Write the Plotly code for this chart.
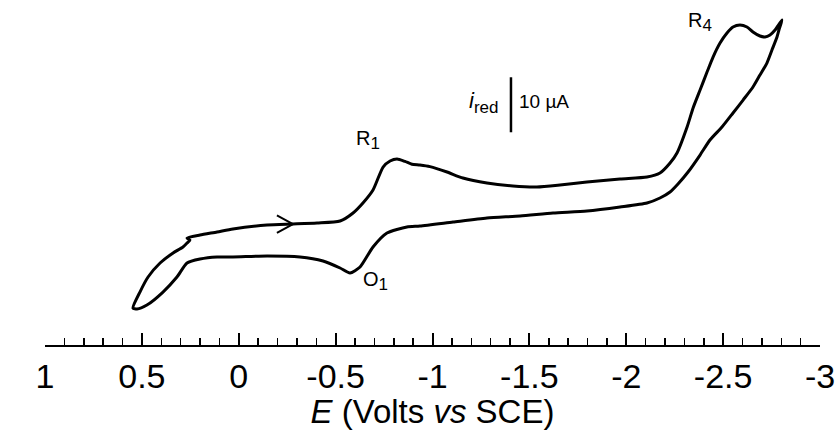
import plotly.graph_objects as go

# Cyclic voltammogram: potential E (V vs SCE) and current i (uA, reduction positive)
E_forward = [0.546, 0.510, 0.468, 0.406, 0.339, 0.288, 0.267, 0.252, 0.267, 0.200, 0.112, 0.030,
             -0.146, -0.280, -0.404, -0.523, -0.590, -0.641, -0.693, -0.745, -0.781, -0.817, -0.858,
             -0.894, -0.935, -0.987, -1.075, -1.157, -1.281, -1.415, -1.539, -1.658, -1.797, -1.968,
             -2.107, -2.174, -2.226, -2.262, -2.314, -2.345, -2.381, -2.417, -2.448, -2.484, -2.520,
             -2.551, -2.587, -2.623, -2.654, -2.690, -2.716, -2.742, -2.768, -2.804]
i_forward = [-1.45, 1.45, 4.18, 6.73, 8.55, 9.64, 10.36, 10.91, 11.27, 11.82, 12.36, 12.91,
             13.64, 13.82, 14.00, 14.36, 15.82, 17.64, 20.00, 24.18, 25.27, 25.64, 25.20,
             24.70, 24.55, 24.25, 23.27, 22.18, 21.27, 20.73, 20.55, 20.91, 21.45, 22.00,
             22.36, 23.09, 24.91, 26.73, 31.45, 34.91, 38.18, 41.45, 44.18, 46.73, 48.55,
             49.64, 50.00, 49.64, 48.73, 48.00, 47.82, 48.18, 49.09, 50.91]

E_reverse = [-2.788, -2.778, -2.752, -2.726, -2.690, -2.654, -2.603, -2.551, -2.494, -2.432,
             -2.381, -2.319, -2.267, -2.226, -2.174, -2.107, -1.968, -1.797, -1.622, -1.452,
             -1.281, -1.106, -0.935, -0.868, -0.765, -0.693, -0.626, -0.574, -0.523, -0.435,
             -0.316, -0.146, 0.030, 0.112, 0.200, 0.267, 0.319, 0.391, 0.474, 0.525, 0.546]
i_reverse = [49.09, 47.82, 45.45, 43.09, 40.91, 38.73, 36.36, 34.00, 31.45, 29.09,
             26.36, 23.27, 21.09, 19.64, 18.55, 17.64, 16.91, 16.18, 15.82, 15.27,
             14.91, 14.18, 13.45, 13.27, 12.18, 9.64, 6.00, 4.91, 5.82, 7.09,
             7.82, 8.00, 7.82, 7.82, 7.45, 6.73, 4.18, 1.45, -0.91, -1.64, -1.45]

# Scan-direction arrow (chevron) on the forward branch
arrow_E = [-0.197, -0.280, -0.197]
arrow_i = [15.4, 13.82, 12.2]

# Scale bar: 10 uA
scale_E = -1.405
scale_i0, scale_i1 = 30.5, 40.5

# Peak labels
peak_names = ["R", "R", "O"]
peak_subs = ["1", "4", "1"]
peak_E = [-0.667, -2.381, -0.708]
peak_i = [29.1, 50.6, 3.5]

x_ticks = [1, 0.5, 0, -0.5, -1, -1.5, -2, -2.5, -3]
x_ticklabels = ["1", "0.5", "0", "-0.5", "-1", "-1.5", "-2", "-2.5", "-3"]

FONT = "Liberation Sans, Arial, sans-serif"

fig = go.Figure()
fig.add_trace(go.Scatter(
    x=E_forward + E_reverse, y=i_forward + i_reverse, mode="lines",
    line=dict(color="black", width=3, shape="spline", smoothing=0.6),
    hoverinfo="skip", showlegend=False))
fig.add_trace(go.Scatter(
    x=arrow_E, y=arrow_i, mode="lines", line=dict(color="black", width=2),
    hoverinfo="skip", showlegend=False))

fig.add_shape(type="line", x0=scale_E, x1=scale_E, y0=scale_i0, y1=scale_i1,
              line=dict(color="black", width=2.5))

for name, sub, ex, iy in zip(peak_names, peak_subs, peak_E, peak_i):
    fig.add_annotation(x=ex, y=iy,
                       text=f"{name}<sub><span style='font-size:17px'>{sub}</span></sub>",
                       showarrow=False,
                       font=dict(family=FONT, size=20, color="black"))

fig.add_annotation(x=scale_E, y=(scale_i0 + scale_i1) / 2,
                   text="<i>i</i><sub><span style='font-size:17px'>red</span></sub>",
                   showarrow=False, xanchor="right", xshift=-11, yshift=2,
                   font=dict(family=FONT, size=22, color="black"))
fig.add_annotation(x=scale_E, y=(scale_i0 + scale_i1) / 2, text="10 µA",
                   showarrow=False, xanchor="left", xshift=6, yshift=3,
                   font=dict(family=FONT, size=19, color="black"))

fig.update_layout(
    width=838, height=430,
    margin=dict(l=45, r=18, t=0, b=85),
    paper_bgcolor="white", plot_bgcolor="white",
    font=dict(family=FONT, color="black"),
    xaxis=dict(
        range=[1, -3], tickvals=x_ticks, ticktext=x_ticklabels,
        showline=True, linecolor="black", linewidth=2,
        ticks="inside", ticklen=12, tickwidth=2, tickcolor="black",
        minor=dict(dtick=0.1, ticks="inside", ticklen=7, tickwidth=1.5, tickcolor="black", showgrid=False),
        showgrid=False, zeroline=False,
        tickfont=dict(family=FONT, size=34, color="black"),
        title=dict(text="<i>E</i> (Volts <i>vs</i> SCE)", standoff=0,
                   font=dict(family=FONT, size=33, color="black")),
        automargin=False,
    ),
    yaxis=dict(range=[-8.18, 54.55], visible=False, showgrid=False, zeroline=False),
)

fig.write_html("out.html",
               config={"displayModeBar": False, "staticPlot": True},
               post_script="document.body.style.margin='0';document.body.style.overflow='hidden';")
